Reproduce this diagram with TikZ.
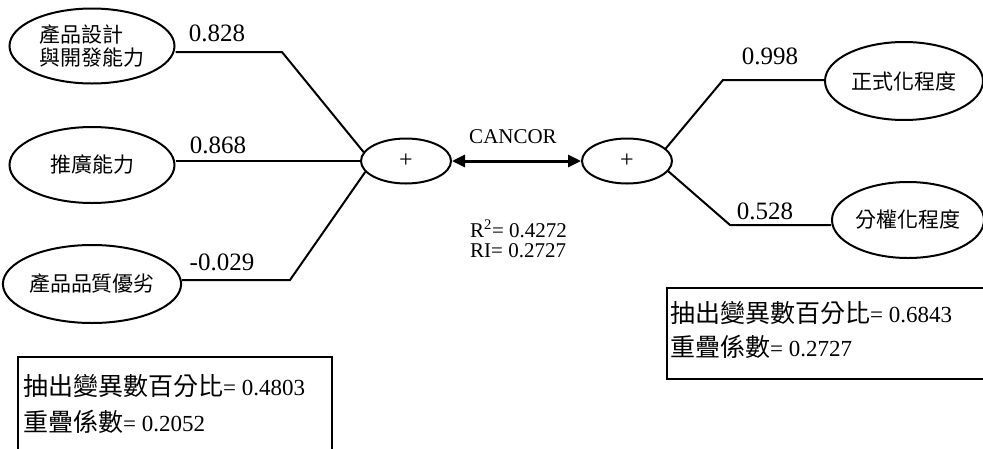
\documentclass[tikz,border=0pt]{standalone}
\usepackage{fontspec}
\setmainfont{Liberation Serif}
\newfontfamily\cjk{Noto Sans CJK TC}
\usetikzlibrary{shapes.geometric,arrows.meta}
\newcommand\boxcjk[1]{{\cjk\fontsize{25}{27}\selectfont #1}}
\begin{document}
\begin{tikzpicture}[x=1pt,y=-1pt,
  var/.style={ellipse,draw,line width=2pt,inner sep=0pt,align=left,
    font=\cjk\fontsize{21}{23}\selectfont},
  plusnode/.style={ellipse,draw,line width=2pt,minimum width=90pt,
    minimum height=45pt,inner sep=0pt,font=\fontsize{24}{26}\selectfont},
  wire/.style={line width=2pt},
  lab/.style={font=\fontsize{25}{28}\selectfont,inner sep=0pt},
  small/.style={font=\fontsize{21}{23}\selectfont,inner sep=0pt},
  boxtext/.style={font=\fontsize{23}{25}\selectfont,inner sep=0pt,anchor=west},
  boxline/.style={line width=1.5pt}
]
\useasboundingbox (0,0) rectangle (983,448);
\clip (0,0) rectangle (983,448);

% variable ellipses
\node[var,minimum width=165pt,minimum height=75pt] (E1) at (92,46) {產品設計\\與開發能力};
\node[var,minimum width=165pt,minimum height=76pt] (E2) at (92,165) {推廣能力};
\node[var,minimum width=165pt,minimum height=78pt] (E3) at (92,284) {產品品質優劣};
\node[var,minimum width=158pt,minimum height=78pt] (E4) at (904,81) {正式化程度};
\node[var,minimum width=152pt,minimum height=76pt] (E5) at (908,220) {分權化程度};

% composite ellipses
\node[plusnode] (P1) at (406,161) {+};
\node[plusnode] (P2) at (627,161) {+};

% corners
\coordinate (c1) at (282,52);
\coordinate (c3) at (290,280);
\coordinate (c4) at (723,80);
\coordinate (c5) at (730,225);

% connectors
\draw[wire] (c1 -| E1.east) -- (c1) -- (P1.168);
\draw[wire] (E2.east |- P1.west) -- (P1.west);
\draw[wire] (c3 -| E3.east) -- (c3) -- (P1.195);
\draw[wire] (P2.18) -- (c4) -- (c4 -| E4.west);
\draw[wire] (P2.-14) -- (c5) -- (c5 -| E5.west);
\draw[line width=3pt,{Triangle[length=13pt,width=12pt]}-{Triangle[length=13pt,width=12pt]}]
  (P1.east) -- (P2.west);

% loadings
\node[lab] (l1) at (217,33) {0.828};
\node[lab] (l2) at (218,145) {0.868};
\node[lab] (l3) at (222,262) {-0.029};
\node[lab] (l4) at (770,56) {0.998};
\node[lab] (l5) at (765,211) {0.528};

% canonical correlation text
\node[small] (cc) at (513,137) {CANCOR};
\node[small,anchor=west] (r2) at (470,229) {R\textsuperscript{2}= 0.4272};
\node[small,anchor=west] (ri) at (470,251) {RI= 0.2727};

% boxes
\draw[boxline] (18,357) rectangle (332,462);
\node[boxtext] (b1a) at (23,386) {\boxcjk{抽出變異數百分比}= 0.4803};
\node[boxtext] (b1b) at (23,422) {\boxcjk{重疊係數}= 0.2052};

\draw[boxline] (667,288) rectangle (992,379);
\node[boxtext] (b2a) at (670,313) {\boxcjk{抽出變異數百分比}= 0.6843};
\node[boxtext] (b2b) at (670,347) {\boxcjk{重疊係數}= 0.2727};
\end{tikzpicture}
\end{document}
